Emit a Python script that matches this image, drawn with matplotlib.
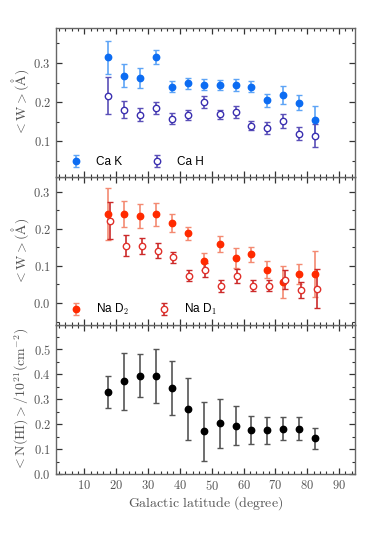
import matplotlib
matplotlib.use("Agg")
import matplotlib.pyplot as plt
from matplotlib.ticker import MultipleLocator, FuncFormatter
import numpy as np

plt.rcParams['mathtext.fontset'] = 'cm'
plt.rcParams['font.family'] = ['DejaVu Serif']

lat = [17.5, 22.5, 27.5, 32.5, 37.5, 42.5, 47.5, 52.5, 57.5, 62.5, 67.5, 72.5, 77.5, 82.5]

cak = [0.314, 0.268, 0.261, 0.315, 0.240, 0.248, 0.245, 0.244, 0.243, 0.240, 0.205, 0.218, 0.199, 0.154]
cak_err = [0.043, 0.029, 0.025, 0.018, 0.014, 0.014, 0.015, 0.013, 0.015, 0.013, 0.016, 0.023, 0.020, 0.036]
cah = [0.217, 0.181, 0.168, 0.185, 0.158, 0.168, 0.200, 0.169, 0.175, 0.140, 0.134, 0.151, 0.120, 0.115]
cah_err = [0.047, 0.022, 0.017, 0.016, 0.014, 0.013, 0.016, 0.011, 0.015, 0.012, 0.015, 0.018, 0.016, 0.030]

nad2 = [0.240, 0.240, 0.234, 0.239, 0.216, 0.188, 0.112, 0.159, 0.122, 0.131, 0.090, 0.056, 0.079, 0.079]
nad2_err = [0.070, 0.036, 0.032, 0.031, 0.024, 0.018, 0.024, 0.021, 0.027, 0.021, 0.022, 0.043, 0.027, 0.062]
nad1 = [0.222, 0.154, 0.154, 0.141, 0.123, 0.074, 0.090, 0.047, 0.073, 0.047, 0.047, 0.063, 0.035, 0.039]
nad1_err = [0.050, 0.028, 0.022, 0.021, 0.015, 0.014, 0.019, 0.016, 0.018, 0.014, 0.015, 0.026, 0.021, 0.052]

nhi = [0.329, 0.372, 0.394, 0.392, 0.345, 0.261, 0.171, 0.203, 0.194, 0.175, 0.175, 0.182, 0.182, 0.143]
nhi_err = [0.064, 0.114, 0.086, 0.107, 0.108, 0.125, 0.119, 0.098, 0.079, 0.056, 0.053, 0.047, 0.047, 0.041]

lat = np.array(lat)
fig = plt.figure(figsize=(3.74, 5.58), dpi=100)
left, width = 0.149, 0.800
h = 0.2664
b0 = 0.1505
ax3 = fig.add_axes([left, b0, width, h])
ax2 = fig.add_axes([left, b0 + h, width, h], sharex=ax3)
ax1 = fig.add_axes([left, b0 + 2 * h, width, h], sharex=ax3)

grey = '#555555'
def fmt(v, p):
    return r'$%.1f$' % v

for ax in (ax1, ax2, ax3):
    ax.set_xlim(1, 95)
    ax.xaxis.set_major_locator(MultipleLocator(10))
    ax.xaxis.set_minor_locator(MultipleLocator(2))
    ax.tick_params(which='both', direction='in', top=True, right=True, colors='#333333',
                   labelcolor=grey, labelsize=9)
    ax.tick_params(which='major', length=4, width=0.9)
    ax.tick_params(which='minor', length=2, width=0.8)
    for s in ax.spines.values():
        s.set_color('#666666')
        s.set_linewidth(1.0)
    ax.yaxis.set_major_formatter(FuncFormatter(fmt))

leg_font = {'family': 'Liberation Sans', 'size': 8.5}
ms = 4.6
leg_kw = dict(loc='lower left', ncol=2, frameon=False, prop=leg_font, handletextpad=0.7,
              columnspacing=2.0, borderaxespad=0.3)

# top panel
ax1.errorbar(lat, cak, yerr=cak_err, fmt='o', color='#0c6cf2', ecolor='#5ea4f6',
             ms=ms, capsize=2, elinewidth=1.2, capthick=1, label='Ca K')
ax1.errorbar(lat, cah, yerr=cah_err, fmt='o', mfc='white', mec='#3a2fb0', ecolor='#5a4fb8',
             ms=ms, mew=1.0, capsize=2, elinewidth=1.2, capthick=1, label='Ca H')
ax1.set_ylim(0.01, 0.389)
ax1.yaxis.set_major_locator(MultipleLocator(0.1))
ax1.yaxis.set_minor_locator(MultipleLocator(0.05))
ax1.set_ylabel(r'$<\mathrm{W}>(\mathrm{\AA})$', color=grey, fontsize=10, labelpad=2)
ax1.legend(**leg_kw)
plt.setp(ax1.get_xticklabels(), visible=False)

# middle panel
ax2.errorbar(lat, nad2, yerr=nad2_err, fmt='o', color='#ff2a00', ecolor='#f48a72',
             ms=ms, capsize=2, elinewidth=1.2, capthick=1, label=r'Na D$_2$')
ax2.errorbar(lat + 0.5, nad1, yerr=nad1_err, fmt='o', mfc='white', mec='#e0302a', ecolor='#cc2a2a',
             ms=ms, mew=1.0, capsize=2, elinewidth=1.2, capthick=1, label=r'Na D$_1$')
ax2.set_ylim(-0.06, 0.34)
ax2.yaxis.set_major_locator(MultipleLocator(0.1))
ax2.yaxis.set_minor_locator(MultipleLocator(0.05))
ax2.set_ylabel(r'$<\mathrm{W}>(\mathrm{\AA})$', color=grey, fontsize=10, labelpad=2)
ax2.legend(**leg_kw)
plt.setp(ax2.get_xticklabels(), visible=False)

# bottom panel
ax3.errorbar(lat, nhi, yerr=nhi_err, fmt='o', color='black', ecolor='#555555',
             ms=ms, capsize=2, elinewidth=1.2, capthick=1)
ax3.set_ylim(0.0, 0.595)
ax3.yaxis.set_major_locator(MultipleLocator(0.1))
ax3.yaxis.set_minor_locator(MultipleLocator(0.05))
ax3.set_ylabel(r'$<\mathrm{N(HI)}>/10^{21}(\mathrm{cm}^{-2})$', color=grey, fontsize=10, labelpad=2)
ax3.xaxis.set_major_formatter(FuncFormatter(lambda v, p: r'$%d$' % v))
ax3.set_xlabel(r'$\mathrm{Galactic\ latitude\ (degree)}$', color=grey, fontsize=10, labelpad=1)
ax3.set_xticks([10, 20, 30, 40, 50, 60, 70, 80, 90])

fig.savefig('out.png', dpi=100)
